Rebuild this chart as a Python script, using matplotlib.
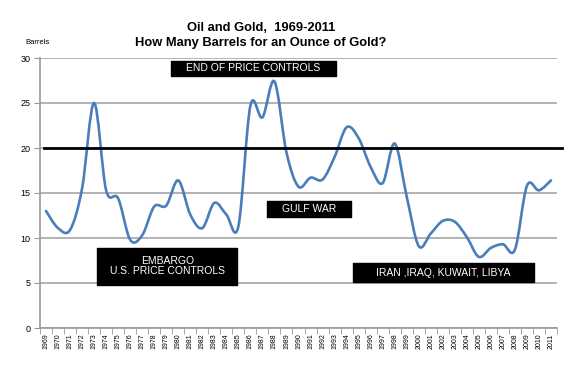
import numpy as np
import matplotlib
matplotlib.use("Agg")
import matplotlib.pyplot as plt
from matplotlib.path import Path
from matplotlib.patches import PathPatch

years = list(range(1969, 2012))
barrels = [13.0, 11.1, 10.9, 15.5, 25.0, 15.3, 14.4, 9.8, 10.3, 13.5,
           13.6, 16.4, 12.6, 11.1, 13.9, 12.6, 11.3, 24.7, 23.4, 27.4,
           19.5, 15.7, 16.7, 16.5, 19.0, 22.3, 21.1, 17.9, 16.1, 20.5,
           14.6, 9.1, 10.5, 11.9, 11.8, 10.1, 7.9, 8.9, 9.3, 8.7,
           15.8, 15.3, 16.4]
yticks = [0, 5, 10, 15, 20, 25, 30]
ref_level = 20

# label, left/right (category index), top/bottom (barrels)
notes = [("END OF PRICE CONTROLS", 10.42, 24.08, 29.67, 28.0),
         ("EMBARGO\nU.S. PRICE CONTROLS", 4.25, 15.92, 8.89, 4.78),
         ("GULF WAR", 18.42, 25.33, 14.11, 12.33),
         ("IRAN ,IRAQ, KUWAIT, LIBYA", 25.5, 40.58, 7.22, 5.11)]

plt.rcParams['font.family'] = ['Liberation Sans', 'DejaVu Sans']

fig = plt.figure(figsize=(5.8, 3.73), dpi=100)
ax = fig.add_axes([40/580, 45/373, 517/580, 270/373])

x = np.arange(len(years))
y = np.array(barrels)

# smoothed line like the spreadsheet's (Catmull-Rom as Bezier segments)
verts = [(x[0], y[0])]
codes = [Path.MOVETO]
n = len(x)
for i in range(n - 1):
    p0 = np.array([x[max(i - 1, 0)], y[max(i - 1, 0)]])
    p1 = np.array([x[i], y[i]])
    p2 = np.array([x[i + 1], y[i + 1]])
    p3 = np.array([x[min(i + 2, n - 1)], y[min(i + 2, n - 1)]])
    c1 = p1 + (p2 - p0) / 6
    c2 = p2 - (p3 - p1) / 6
    verts += [tuple(c1), tuple(c2), tuple(p2)]
    codes += [Path.CURVE4] * 3
ax.add_patch(PathPatch(Path(verts, codes), fill=False, edgecolor='#4a7ebb',
                       lw=1.9, zorder=3, capstyle='round', joinstyle='round'))

ax.set_xlim(-0.5, n - 0.5)
ax.set_ylim(0, 30)
ax.set_yticks(yticks)
ax.set_yticklabels([str(t) for t in yticks], fontsize=6.5)
ax.yaxis.grid(True, color='#a6a6a6', lw=1.2)
ax.set_axisbelow(True)

ax.set_xticks(x)
ax.set_xticklabels([str(v) for v in years], rotation=90, fontsize=5)
ax.set_xticks(np.arange(-0.5, n, 1), minor=True)
ax.tick_params(axis='x', which='major', length=0, pad=4)
ax.tick_params(axis='x', which='minor', length=4, color='#999999')
ax.tick_params(axis='y', length=4, color='#999999', pad=3)

for s in ['top', 'right']:
    ax.spines[s].set_visible(False)
for s in ['left', 'bottom']:
    ax.spines[s].set_color('#999999')
    ax.spines[s].set_linewidth(1.2)

# black reference line, slightly past the plot area
ax.plot([-0.2, n - 0.1], [ref_level, ref_level], color='black', lw=2,
        zorder=4, clip_on=False)

for label, xa, xb, ya, yb in notes:
    ax.fill_between([xa, xb], [yb, yb], [ya, ya], color='black', zorder=5)
    ax.text((xa + xb) / 2, (ya + yb) / 2, label, color='white',
            fontsize=7.5, ha='center', va='center', zorder=6, linespacing=1.0)

fig.text(261/580, 1 - 28/373, "Oil and Gold,  1969-2011", ha='center',
         va='center', fontsize=9.3, fontweight='bold')
fig.text(261/580, 1 - 43/373, "How Many Barrels for an Ounce of Gold?",
         ha='center', va='center', fontsize=9.3, fontweight='bold')
fig.text(38/580, 1 - 42/373, "Barrels", ha='center', va='center', fontsize=5.5)

fig.savefig("out.png", dpi=100)
